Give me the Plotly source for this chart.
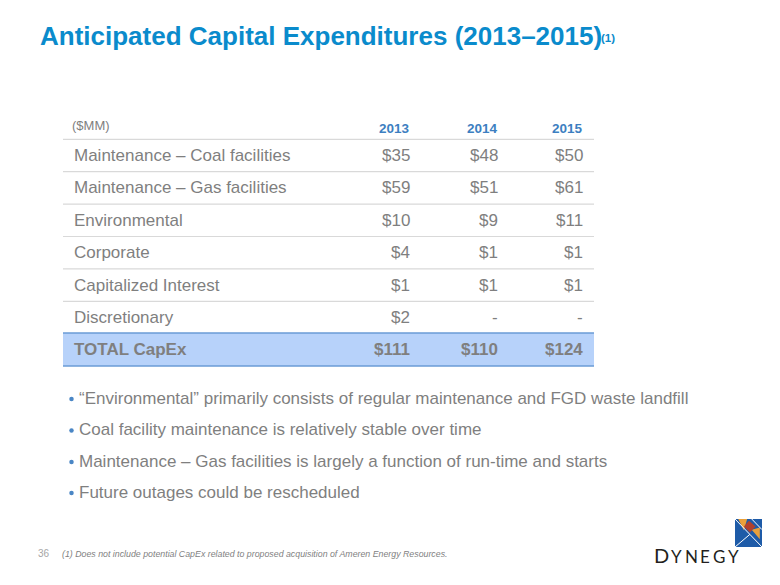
import plotly.graph_objects as go

# ---------------- data ----------------
title_text = "Anticipated Capital Expenditures (2013–2015)"
title_note = "(1)"
unit_label = "($MM)"
years = ["2013", "2014", "2015"]
categories = [
    "Maintenance – Coal facilities",
    "Maintenance – Gas facilities",
    "Environmental",
    "Corporate",
    "Capitalized Interest",
    "Discretionary",
]
capex_2013 = [35, 59, 10, 4, 1, 2]
capex_2014 = [48, 51, 9, 1, 1, None]
capex_2015 = [50, 61, 11, 1, 1, None]
total_label = "TOTAL CapEx"
total_capex = [111, 110, 124]
bullets = [
    "“Environmental” primarily consists of regular maintenance and FGD waste landfill",
    "Coal facility maintenance is relatively stable over time",
    "Maintenance – Gas facilities is largely a function of run-time and starts",
    "Future outages could be rescheduled",
]
page_number = "36"
footnote = "(1) Does not include potential CapEx related to proposed acquisition of Ameren Energy Resources."
logo_letters = ["D", "Y", "N", "E", "G", "Y"]

# ---------------- style / layout ----------------
W, H = 780, 585
FONT = "Liberation Sans, Arial, sans-serif"
GRAY = "#7f7f7f"
BLUE_HDR = "#3d7fc1"
TITLE_BLUE = "#0a8bcc"
SEP = "#d9d9d9"

tbl_left, tbl_right = 63, 594
label_x = 72
col_x = [412, 500, 585]
hdr_line_y = 139.3
row_h = 32.4
bullet_y = [398, 429.5, 461, 492]

series = [capex_2013, capex_2014, capex_2015]

def fmt(v):
    return "-" if v is None else f"${v}"

fig = go.Figure()
# bullet dots (also activates the axes)
fig.add_trace(go.Scatter(x=[71.5] * len(bullets), y=[b + 1 for b in bullet_y], mode="markers",
                         marker=dict(size=4.5, color="#4a86c5", line=dict(width=0)),
                         hoverinfo="skip", showlegend=False))

ann = []
shapes = []

def text(x, y, s, size, color, xanchor="left", bold=False, italic=False, family=FONT):
    if bold:
        s = f"<b>{s}</b>"
    if italic:
        s = f"<i>{s}</i>"
    ann.append(dict(x=x, y=y, xref="x", yref="y", text=s, showarrow=False,
                    xanchor=xanchor, yanchor="middle",
                    font=dict(family=family, size=size, color=color)))

# title
text(38, 35.5, title_text, 26, TITLE_BLUE, bold=True)
text(599, 38, title_note, 11.5, TITLE_BLUE, bold=True)

# header
text(70, 125, unit_label, 13, GRAY)
for j, yr in enumerate(years):
    text(col_x[j], 128.5, yr, 13.5, BLUE_HDR, xanchor="right", bold=True)
shapes.append(dict(type="line", xref="x", yref="y", x0=tbl_left, x1=tbl_right,
                   y0=hdr_line_y, y1=hdr_line_y, line=dict(color=SEP, width=1.2)))

# rows
for i, cat in enumerate(categories):
    yc = hdr_line_y + row_h * (i + 0.5)
    text(label_x, yc, cat, 17, GRAY)
    for j in range(3):
        text(col_x[j], yc, fmt(series[j][i]), 17, GRAY, xanchor="right")
    if i < len(categories) - 1:
        yl = hdr_line_y + row_h * (i + 1)
        shapes.append(dict(type="line", xref="x", yref="y", x0=tbl_left, x1=tbl_right,
                           y0=yl, y1=yl, line=dict(color=SEP, width=1.2)))

# total row
t0 = hdr_line_y + row_h * len(categories) - 0.8
t1 = t0 + 33
shapes.append(dict(type="rect", xref="x", yref="y", x0=tbl_left, x1=tbl_right,
                   y0=t0, y1=t1, fillcolor="#b7d2fa", line=dict(width=0), layer="below"))
for yy in (t0, t1):
    shapes.append(dict(type="line", xref="x", yref="y", x0=tbl_left, x1=tbl_right,
                       y0=yy, y1=yy, line=dict(color="#6a9bd6", width=1.5)))
tc = (t0 + t1) / 2
text(label_x, tc, total_label, 17, GRAY, bold=True)
for j in range(3):
    text(col_x[j], tc, fmt(total_capex[j]), 17, GRAY, xanchor="right", bold=True)

# bullets text
for k, b in enumerate(bullets):
    text(77, bullet_y[k], b, 17, GRAY)

# footer
text(36, 553.5, page_number, 10, "#a6a6a6")
text(60, 553.5, footnote, 8.8, GRAY, italic=True)

# logo square
sx0, sx1, sy0, sy1 = 735, 762, 519, 547
sw, sh = sx1 - sx0, sy1 - sy0

def P(u, v):
    return f"{sx0 + u * sw:.2f},{sy0 + v * sh:.2f}"

shapes.append(dict(type="rect", xref="x", yref="y", x0=sx0, x1=sx1, y0=sy0, y1=sy1,
                   fillcolor="#1e5ba8", line=dict(width=0)))
shapes.append(dict(type="path", xref="x", yref="y",
                   path=f"M{P(0.12,0)} L{P(0.45,0)} L{P(0.33,0.40)} Z",
                   fillcolor="#e9a03a", line=dict(width=0)))
shapes.append(dict(type="path", xref="x", yref="y",
                   path=f"M{P(0.62,0.38)} L{P(0.92,0.30)} L{P(0.92,0.72)} Z",
                   fillcolor="#e9a03a", line=dict(width=0)))
shapes.append(dict(type="path", xref="x", yref="y",
                   path=f"M{P(0.52,0.06)} L{P(0.76,0.27)} L{P(0.55,0.48)} L{P(0.33,0.27)} Z",
                   fillcolor="#b2412c", line=dict(width=0)))
for (a, b, c, d) in [(0, 1, 0.55, 0.55), (1, 1, 0.55, 0.55), (0.0, 0.0, 0.55, 0.55),
                     (0.62, 0.0, 1.0, 0.38)]:
    shapes.append(dict(type="line", xref="x", yref="y",
                       x0=sx0 + a * sw, y0=sy0 + b * sh, x1=sx0 + c * sw, y1=sy0 + d * sh,
                       line=dict(color="white", width=1)))

# logo word
letter_x = [661.5, 676, 691, 705, 719, 733]
for k, ch in enumerate(logo_letters):
    size = 20 if k == 0 else 17
    ann.append(dict(x=letter_x[k], y=565, xref="x", yref="y", text=ch, showarrow=False,
                    xanchor="center", yanchor="bottom", yshift=-4,
                    font=dict(family="Lato, DejaVu Sans, sans-serif", size=size, color="#231f20")))

fig.update_layout(
    width=W, height=H,
    margin=dict(l=0, r=0, t=0, b=0),
    paper_bgcolor="white", plot_bgcolor="white",
    xaxis=dict(range=[0, W], visible=False, fixedrange=True),
    yaxis=dict(range=[H, 0], visible=False, fixedrange=True),
    annotations=ann, shapes=shapes, showlegend=False,
    hovermode=False,
)

fig.write_html(
    "out.html",
    config={"displayModeBar": False, "staticPlot": True},
    post_script="document.body.style.margin='0';document.body.style.overflow='hidden';",
)
